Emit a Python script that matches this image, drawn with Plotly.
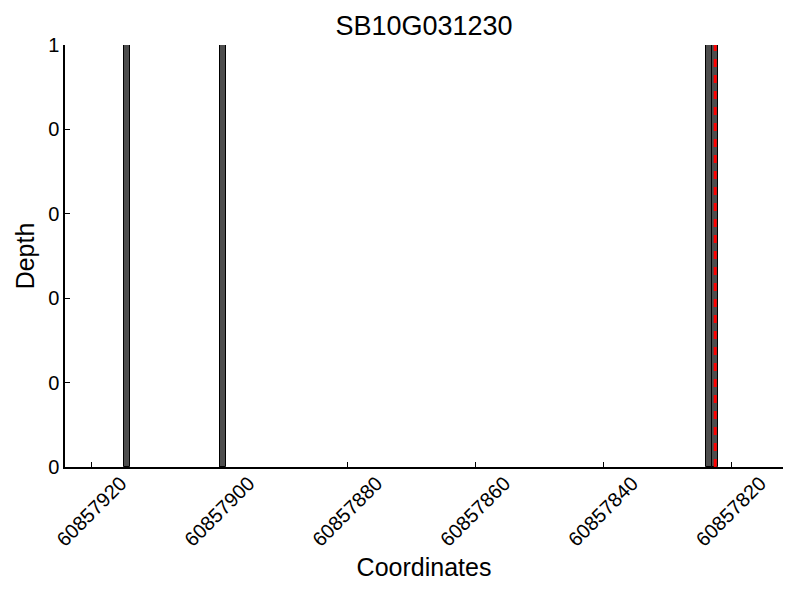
import plotly.graph_objects as go

title = "SB10G031230"
positions = [60857914.5, 60857899.5, 60857823.5, 60857822.5]
depths = [1, 1, 1, 1]
bar_width = 1
marker_pos = 60857822.5
x_ticks = [60857920, 60857900, 60857880, 60857860, 60857840, 60857820]
y_ticks = [0, 0.2, 0.4, 0.6, 0.8, 1.0]
y_labels = ["0", "0", "0", "0", "0", "1"]
x_range = [60857924.2, 60857811.9]

fig = go.Figure()
fig.add_trace(go.Bar(
    x=positions, y=depths, width=[bar_width] * len(positions),
    marker=dict(color="#4d4d4d", line=dict(color="black", width=1)),
    showlegend=False,
))
fig.add_trace(go.Scatter(
    x=[marker_pos, marker_pos], y=[0, 1], mode="lines",
    line=dict(color="red", width=3, dash="8px,8px"), showlegend=False,
))

font = "Liberation Sans, Arial, sans-serif"
fig.update_layout(
    width=800, height=600,
    margin=dict(l=57, r=25, t=37, b=141),
    plot_bgcolor="white", paper_bgcolor="white",
    font=dict(family=font, color="black", size=20),
    title=dict(text=title, x=0.5, xref="paper", xanchor="center",
               y=0.97, yanchor="middle",
               font=dict(size=27, family=font, color="black")),
    bargap=0,
)
fig.update_xaxes(
    range=x_range, tickvals=x_ticks, ticktext=[str(v) for v in x_ticks],
    tickangle=-45, ticks="inside", ticklen=5, tickcolor="black",
    ticklabelshift=-29, ticklabelstandoff=-5,
    showline=True, linecolor="black", linewidth=1.5, showgrid=False, zeroline=False,
    tickfont=dict(size=20),
    title=dict(text="Coordinates", font=dict(size=25), standoff=9),
)
fig.update_yaxes(
    range=[0, 1], tickvals=y_ticks, ticktext=y_labels,
    ticks="inside", ticklen=5, tickcolor="black",
    showline=True, linecolor="black", linewidth=1.5, showgrid=False, zeroline=False,
    tickfont=dict(size=20),
    title=dict(text="Depth", font=dict(size=25), standoff=6),
)
fig.write_html("out.html")
